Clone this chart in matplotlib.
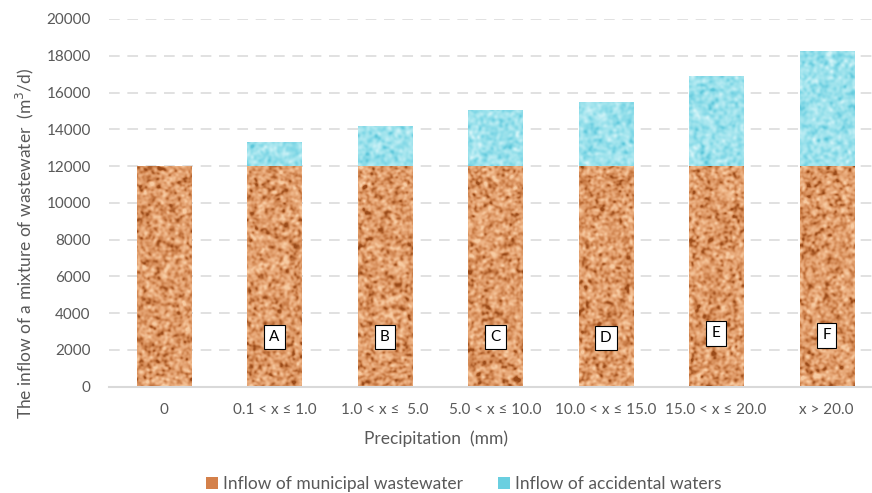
import numpy as np
import matplotlib
matplotlib.use("Agg")
import matplotlib.pyplot as plt
from matplotlib.colors import LinearSegmentedColormap
from matplotlib.patches import Patch

categories = ["0", "0.1 < x ≤ 1.0", "1.0 < x ≤  5.0", "5.0 < x ≤ 10.0",
              "10.0 < x ≤ 15.0", "15.0 < x ≤ 20.0", "x > 20.0"]
municipal = [12000, 12000, 12000, 12000, 12000, 12000, 12000]
accidental = [0, 1330, 2200, 3050, 3470, 4880, 6260]
tags = ["", "A", "B", "C", "D", "E", "F"]
yticks = [0, 2000, 4000, 6000, 8000, 10000, 12000, 14000, 16000, 18000, 20000]

FONT = ["Lato", "DejaVu Sans"]
GREY = "#595959"
plt.rcParams["font.family"] = FONT

cork = LinearSegmentedColormap.from_list(
    "cork", ["#9A4A18", "#C97B45", "#E09C6A", "#EDB385", "#F7CCA3"])
water = LinearSegmentedColormap.from_list(
    "water", ["#5CC6D9", "#80D7E6", "#9CE2EC", "#B4EAF2", "#D3F4F8"])


def mottled(h, w, seed, sigma):
    """Smoothed noise field used as a fill texture."""
    rng = np.random.default_rng(seed)
    n = rng.standard_normal((h, w))
    fy = np.fft.fftfreq(h)[:, None]
    fx = np.fft.fftfreq(w)[None, :]
    g = np.exp(-2 * (np.pi * sigma) ** 2 * (fx ** 2 + fy ** 2))
    s = np.real(np.fft.ifft2(np.fft.fft2(n) * g))
    return (s - s.mean()) / s.std()


fig = plt.figure(figsize=(8.72, 4.93), dpi=100)
ax = fig.add_axes([0.1248, 0.2156, 0.8864, 0.7459])

x = np.arange(len(categories))
width = 0.49

ax.set_xlim(-0.5, len(categories) - 0.5)
ax.set_ylim(0, 20000)

bars_m = ax.bar(x, municipal, width=width, color="#D98C57", zorder=2)
bars_a = ax.bar(x, accidental, width=width, bottom=municipal,
                color="#9CE2EC", zorder=2)

# textured fills clipped to each bar
px_per_unit_y = 367.7 / 20000
for i, (bm, ba) in enumerate(zip(bars_m, bars_a)):
    for bar, cmap, seed, sig, rng_v in ((bm, cork, 10 + i, 1.2, 2.4),
                                        (ba, water, 40 + i, 1.4, 3.0)):
        h_val = bar.get_height()
        if h_val <= 0:
            continue
        x0 = bar.get_x()
        y0 = bar.get_y()
        hp = max(int(h_val * px_per_unit_y), 2)
        wp = 54
        tex = mottled(hp, wp, seed, sig)
        im = ax.imshow(tex, cmap=cmap, vmin=-rng_v, vmax=rng_v,
                       extent=(x0, x0 + bar.get_width(), y0, y0 + h_val),
                       aspect="auto", interpolation="bilinear", zorder=3)
        im.set_clip_path(bar)

ax.set_xlim(-0.5, len(categories) - 0.5)
ax.set_ylim(0, 20000)

# letter tags on the lower bars
tag_y = [0, 2700, 2700, 2700, 2650, 2900, 2800]
for xi, t, ty in zip(x, tags, tag_y):
    if t:
        ax.text(xi, ty, t, ha="center", va="center", fontsize=11,
                color="black", zorder=5,
                bbox=dict(boxstyle="square,pad=0.35", fc="white",
                          ec="black", lw=0.8))

ax.set_yticks(yticks)
ax.set_yticklabels([str(v) for v in yticks])
ax.set_xticks(x)
ax.set_xticklabels(categories)
ax.tick_params(axis="both", length=0, labelsize=11, labelcolor=GREY)
ax.tick_params(axis="y", pad=13)
ax.tick_params(axis="x", pad=12)

ax.yaxis.grid(True, color="#D9D9D9", linestyle=(0, (7, 5)), lw=1.1, zorder=0)
ax.set_axisbelow(True)
for side in ("top", "right", "left"):
    ax.spines[side].set_visible(False)
ax.spines["bottom"].set_color("#D9D9D9")
ax.spines["bottom"].set_linewidth(1.5)
ax.spines["bottom"].set_zorder(4)

fig.text(436 / 872, 1 - 439 / 493, "Precipitation  (mm)", ha="center",
         va="center", fontsize=12.5, color=GREY)
fig.text(25 / 872, 1 - 243 / 493,
         "The inflow of a mixture of wastewater  (m$^3$/d)", ha="center",
         va="center", rotation=90, fontsize=12.5, color=GREY)

handles = [Patch(facecolor="#D4804A", edgecolor="none"),
           Patch(facecolor="#6ACFE0", edgecolor="none")]
fig.legend(handles, ["Inflow of municipal wastewater",
                     "Inflow of accidental waters"],
           loc="center", bbox_to_anchor=(464 / 872, 1 - 484 / 493), ncol=2,
           frameon=False, fontsize=12.5, handlelength=0.7, handleheight=0.7,
           handletextpad=0.3, columnspacing=2.0, labelcolor=GREY)

fig.savefig("out.png", dpi=100)
